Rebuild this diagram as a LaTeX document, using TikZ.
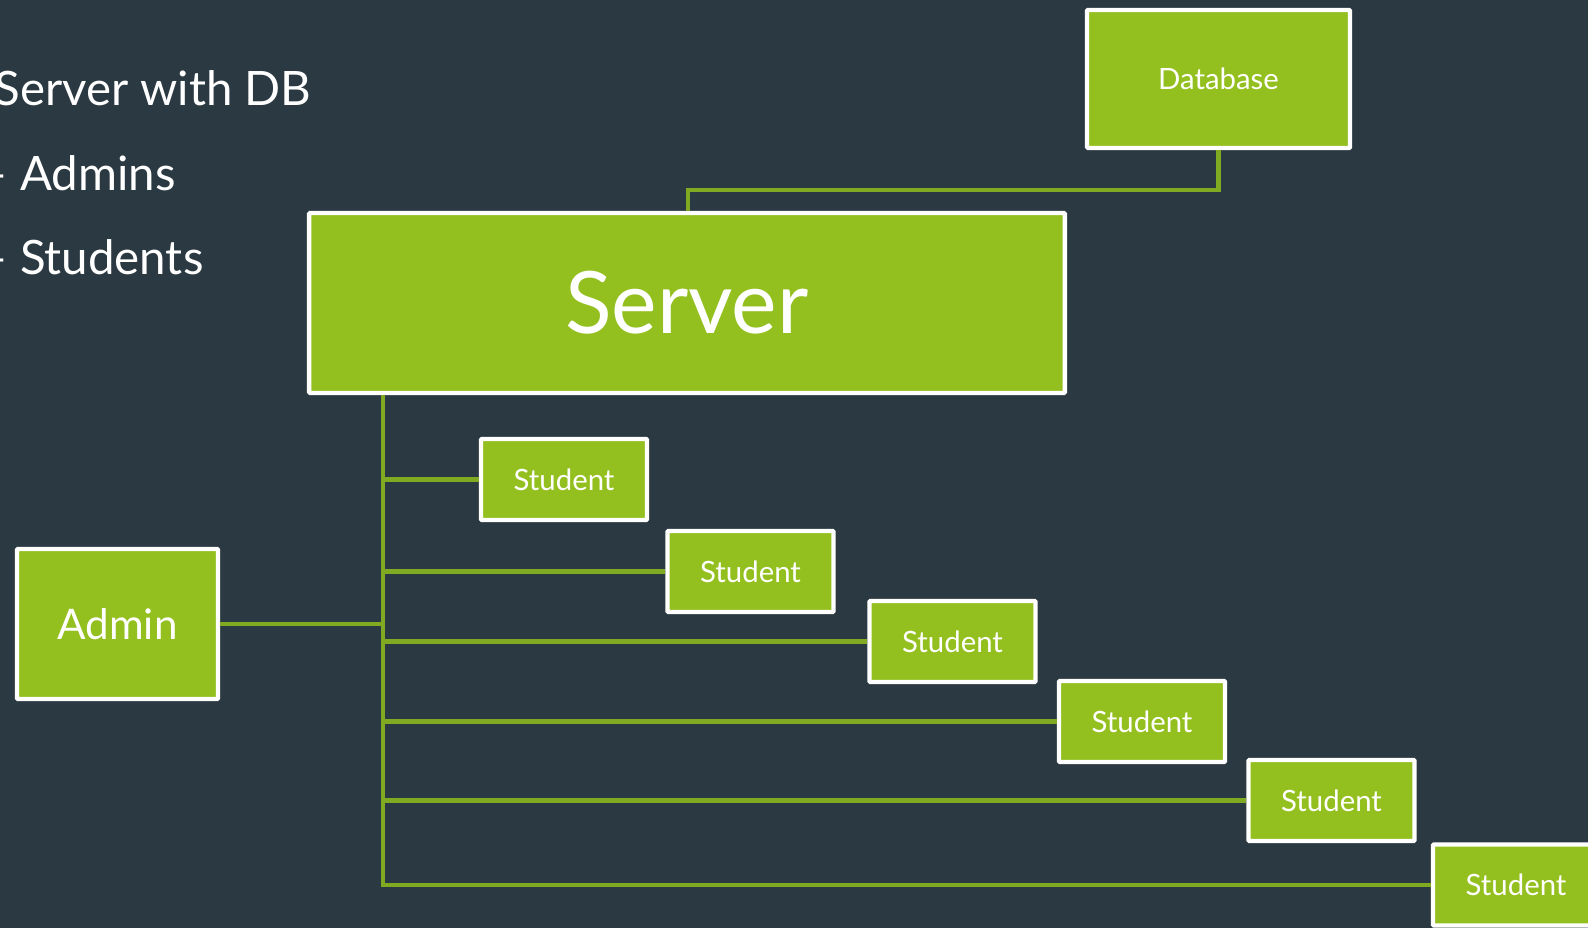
\documentclass[tikz,border=0pt]{standalone}
\usepackage{fontspec}
\setmainfont{Lato}
\usetikzlibrary{positioning}
\definecolor{slate}{HTML}{2B3A42}
\definecolor{leaf}{HTML}{93C01F}
\definecolor{wire}{HTML}{80AA22}
\tikzset{box/.style={draw=white,fill=leaf,line width=2.5pt,rounded corners=0.6pt,
        text=white,inner sep=0pt},
    student/.style={box,minimum width=3.32cm,minimum height=1.62cm,
        font=\fontsize{16.7}{20}\selectfont},
    link/.style={wire,line width=2.6pt},
    bullet/.style={anchor=base west,text=white,inner sep=0pt,
        font=\fontsize{27}{32}\selectfont},
    }
\begin{document}
\begin{tikzpicture}[x=0.02cm,y=-0.02cm]
	\fill[slate] (0,0) rectangle (1588,928);
	\useasboundingbox (0,0) rectangle (1588,928);
	% list on the left
	\node[bullet] (l1) at (-6,106) {Server with DB};
	\node[bullet] (l2) at (-20,191) {– Admins};
	\node[bullet] (l3) at (-20,275) {– Students};
	% boxes
	\node[box,minimum width=5.26cm,minimum height=2.76cm,
		font=\fontsize{16.7}{20}\selectfont] (db) at (1218.5,79) {Database};
	\node[box,minimum width=15.12cm,minimum height=3.6cm,
		font=\fontsize{49}{58}\selectfont] (srv) at (687,303) {Server};
	\node[box,minimum width=4.02cm,minimum height=3cm,
		font=\fontsize{24}{29}\selectfont] (adm) at (117.5,624) {Admin};
	\node[student] (s1) at (564,479.5) {Student};
	\node[student] (s2) at (750.5,571.5) {Student};
	\node[student] (s3) at (952.5,641.5) {Student};
	\node[student] (s4) at (1142,721.5) {Student};
	\node[student] (s5) at (1331.5,800.5) {Student};
	\node[student] (s6) at (1516,885) {Student};
	% wiring
	\coordinate (trunk) at (383,395);
	\coordinate (bend) at (688,190);
	\begin{scope}[on background layer/.try]
	\draw[link] (db.south) |- (bend) -- (bend|-srv.north);
	\draw[link] (trunk) -- (trunk|-s6.west) -- (s6.west);
	\foreach \s in {s1,s2,s3,s4,s5}
		\draw[link] (trunk|-\s.west) -- (\s.west);
	\draw[link] (adm.east) -- (adm.east-|trunk);
	\end{scope}
\end{tikzpicture}
\end{document}
